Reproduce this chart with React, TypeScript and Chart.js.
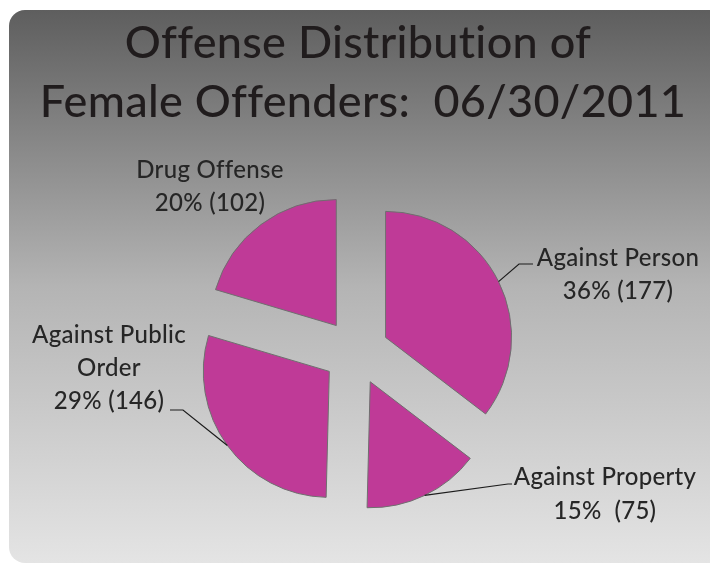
import React, { useEffect, useRef } from 'react';
import { Chart, registerables } from 'chart.js';

Chart.register(...registerables);

// ---- data ----
const TITLE_LINES = ['Offense Distribution of', 'Female Offenders:  06/30/2011'];
const CATEGORIES = ['Against Person', 'Against Property', 'Against Public Order', 'Drug Offense'];
const CATEGORY_LINES = [['Against Person'], ['Against Property'], ['Against Public', 'Order'], ['Drug Offense']];
const COUNTS = [177, 75, 146, 102];
const PERCENT_LABELS = ['36% (177)', '15%  (75)', '29% (146)', '20% (102)'];

// ---- style / layout ----
const FONT = 'Lato, "Open Sans", sans-serif';
const SLICE_COLOR = '#BF3A97';
const BORDER_COLOR = '#6f6f6f';
const TEXT_COLOR = '#262626';
const TITLE_COLOR = '#201c1d';
const PIE_RADIUS = 126;
const EXPLODE = 33;
// label placement relative to pie centre: text centre x, first baseline y, line step, leader points
const LABEL_LAYOUT = [
  { tx: 262, ty: -86, step: 33, leader: [[163, -88], [177, -88]] },
  { tx: 249, ty: 133, step: 34, leader: [[152, 132], [156, 132]] },
  { tx: -247, ty: -9, step: 33, leader: [[-173, 58], [-186, 58]] },
  { tx: -146, ty: -174, step: 33, leader: null as null | number[][] },
];

const pieDecor = {
  id: 'pieDecor',
  beforeDraw(chart: any) {
    const ctx = chart.ctx as CanvasRenderingContext2D;
    const W = chart.width, H = chart.height;
    ctx.save();
    ctx.fillStyle = '#ffffff';
    ctx.fillRect(0, 0, W, H);
    const x0 = 9, y0 = 10, x1 = W + 20, y1 = H - 2, r = 16;
    const g = ctx.createLinearGradient(0, y0, 0, y1);
    g.addColorStop(0, '#5e5e5e');
    g.addColorStop(0.5, '#b4b4b4');
    g.addColorStop(1, '#e4e4e4');
    ctx.fillStyle = g;
    ctx.beginPath();
    ctx.moveTo(x0 + r, y0);
    ctx.lineTo(x1, y0);
    ctx.lineTo(x1, y1);
    ctx.lineTo(x0 + r, y1);
    ctx.arcTo(x0, y1, x0, y1 - r, r);
    ctx.lineTo(x0, y0 + r);
    ctx.arcTo(x0, y0, x0 + r, y0, r);
    ctx.closePath();
    ctx.fill();
    ctx.restore();
  },
  beforeDatasetsDraw(chart: any) {
    const a = chart.chartArea;
    const cx = (a.left + a.right) / 2, cy = (a.top + a.bottom) / 2;
    const meta = chart.getDatasetMeta(0);
    meta.data.forEach((arc: any) => {
      const mid = (arc.startAngle + arc.endAngle) / 2;
      arc.x = cx + Math.cos(mid) * EXPLODE;
      arc.y = cy + Math.sin(mid) * EXPLODE;
    });
  },
  afterDraw(chart: any) {
    const ctx = chart.ctx as CanvasRenderingContext2D;
    const a = chart.chartArea;
    const cx = (a.left + a.right) / 2, cy = (a.top + a.bottom) / 2;
    ctx.save();
    (ctx as any).letterSpacing = '0.3px';
    // title
    ctx.fillStyle = TITLE_COLOR;
    ctx.textAlign = 'center';
    ctx.textBaseline = 'alphabetic';
    ctx.font = `500 45px ${FONT}`;
    ctx.fillText(TITLE_LINES[0], 358, 58);
    ctx.fillText(TITLE_LINES[1], 363, 117);

    // labels + leaders
    const meta = chart.getDatasetMeta(0);
    ctx.font = `500 24px ${FONT}`;
    meta.data.forEach((arc: any, i: number) => {
      const L = LABEL_LAYOUT[i];
      const lines = [...CATEGORY_LINES[i], PERCENT_LABELS[i]];
      ctx.fillStyle = TEXT_COLOR;
      ctx.textAlign = 'center';
      lines.forEach((t, k) => ctx.fillText(t, cx + L.tx, cy + L.ty + k * L.step));
      if (L.leader) {
        const mid = (arc.startAngle + arc.endAngle) / 2;
        const sx = arc.x + Math.cos(mid) * arc.outerRadius;
        const sy = arc.y + Math.sin(mid) * arc.outerRadius;
        ctx.strokeStyle = '#1c1c1c';
        ctx.lineWidth = 1.2;
        ctx.beginPath();
        ctx.moveTo(sx, sy);
        L.leader.forEach(([dx, dy]) => ctx.lineTo(cx + dx, cy + dy));
        ctx.stroke();
      }
    });
    ctx.restore();
  },
};

export default function App() {
  const ref = useRef<HTMLCanvasElement>(null);
  useEffect(() => {
    document.body.style.margin = '0';
    let chart: Chart | null = null;
    let cancelled = false;
    const build = () => {
      if (cancelled || !ref.current) return;
      chart = new Chart(ref.current, {
        type: 'pie',
        data: {
          labels: CATEGORIES,
          datasets: [
            {
              data: COUNTS,
              backgroundColor: SLICE_COLOR,
              borderColor: BORDER_COLOR,
              borderWidth: 1,
            },
          ],
        },
        options: {
          responsive: false,
          animation: false,
          radius: PIE_RADIUS,
          layout: { padding: { top: 150, bottom: 11, left: 40, right: 38 } },
          plugins: { legend: { display: false }, tooltip: { enabled: false }, title: { display: false } },
        } as any,
        plugins: [pieDecor],
      });
    };
    Promise.all([document.fonts.load(`500 45px Lato`), document.fonts.load(`500 24px Lato`)])
      .catch(() => null)
      .then(build);
    return () => {
      cancelled = true;
      if (chart) chart.destroy();
    };
  }, []);
  return (
    <div style={{ position: 'absolute', left: 0, top: 0, width: 710, height: 565 }}>
      <canvas ref={ref} width={710} height={565} style={{ width: 710, height: 565, display: 'block' }} />
    </div>
  );
}
